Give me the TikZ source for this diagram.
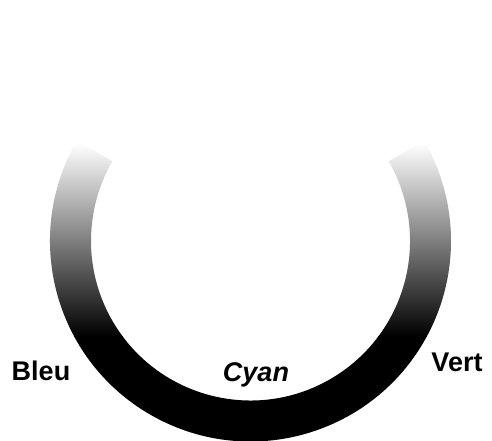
\documentclass[tikz,border=0pt]{standalone}
\usepackage{fontspec}
\setmainfont{Liberation Sans}
\begin{document}
\begin{tikzpicture}[x=1pt,y=1pt,
  lbl/.style={inner sep=0pt, anchor=base, font=\fontsize{27}{30}\selectfont\bfseries}]
\useasboundingbox (0,0) rectangle (492,441);
\coordinate (c) at (250.5,200);
\begin{scope}
  \clip ([shift={(150:200.5)}]c) arc[start angle=150, end angle=390, radius=200.5]
        -- ([shift={(30:159.5)}]c) arc[start angle=30, end angle=-210, radius=159.5] -- cycle;
  \shade[top color=white, bottom color=black] (0,104) rectangle (492,298);
  \fill[black] (0,-1) rectangle (492,104.5);
  \fill[white] (0,297.5) rectangle (492,320);
\end{scope}
\node[lbl] (bleu) at (41,60) {Bleu};
\node[lbl, font=\fontsize{27}{30}\selectfont\bfseries\itshape] (cyan) at (256,59) {Cyan};
\node[lbl] (vert) at (457,69) {Vert};
\end{tikzpicture}
\end{document}
